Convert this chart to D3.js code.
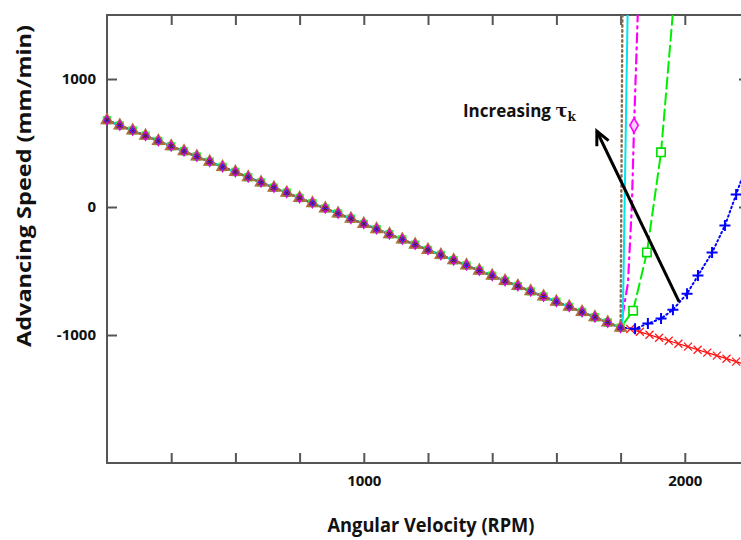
<!DOCTYPE html>
<html><head><meta charset="utf-8">
<script src="https://cdn.jsdelivr.net/npm/d3@7"></script>
<style>
html,body{margin:0;padding:0;background:#fff;}
svg{display:block;}
text{font-family:"Open Sans","DejaVu Sans",sans-serif;}
</style></head>
<body>
<svg id="chart" width="741" height="540"></svg>
<script>
// ---- data ----
const xTicks = [400, 600, 800, 1000, 1200, 1400, 1600, 1800, 2000];
const xTickLabels = [1000, 2000];
const yTicks = [1000, 0, -1000];
const xLabel = "Angular Velocity (RPM)";
const yLabel = "Advancing Speed (mm/min)";

// shared low-speed segment (all curves coincide)
const rpmCommon = [200,240,280,320,360,400,440,480,520,560,600,640,680,720,760,800,840,880,920,960,1000,
  1040,1080,1120,1160,1200,1240,1280,1320,1360,1400,1440,1480,1520,1560,1600,1640,1680,1720,1760,1800];
const speedCommon = [678,637,597,556,516,475,435,394,354,313,273,232,192,151,111,70,30,-11,-51,-92,-132,
  -173,-213,-254,-294,-335,-375,-416,-456,-497,-537,-578,-618,-659,-699,-740,-780,-821,-861,-902,-943];

// branches after the knee
const brownRpm = [1806];            const brownSpeed = [1700];
const cyanRpm = [1807, 1823];       const cyanSpeed = [-870, 1700];
const magentaRpm = [1823, 1835, 1842, 1856]; const magentaSpeed = [-590, 5, 638, 1700];
const magentaMarkRpm = [1842];      const magentaMarkSpeed = [638];
const greenRpm = [1839, 1882, 1926, 1969];   const greenSpeed = [-810, -355, 427, 1700];
const blueRpm = [1845, 1885, 1926, 1963, 2007, 2041, 2085, 2125, 2160, 2200];
const blueSpeed = [-951, -911, -872, -802, -677, -536, -356, -145, 98, 380];
const redRpm = [1830,1860,1890,1920,1950,1980,2010,2040,2070,2100,2130,2160,2190];
const redSpeed = [-953,-975,-998,-1022,-1045,-1068,-1091,-1115,-1138,-1161,-1185,-1208,-1231];

const annotationText = "Increasing τ";
const annotationSub = "k";
const arrowFrom = [1982, -739];
const arrowTo = [1726, 592];
const annotationPos = [1309, 702];

// ---- drawing ----
const svg = d3.select("#chart");
const x = d3.scaleLinear().domain([200, 2200]).range([107, 749]);
const y = d3.scaleLinear().domain([-2000, 1500]).range([463, 15]);

const axisColor = "#555";

svg.append("defs").append("clipPath").attr("id", "clip")
  .append("rect").attr("x", 0).attr("y", y(1500)).attr("width", x(2200)).attr("height", y(-2000) - y(1500));

// frame
svg.append("rect").attr("x", x(200)).attr("y", y(1500))
  .attr("width", x(2200) - x(200)).attr("height", y(-2000) - y(1500))
  .attr("fill", "none").attr("stroke", axisColor).attr("stroke-width", 2);

function styleAxis(g) {
  g.select(".domain").remove();
  g.selectAll(".tick line").attr("stroke", axisColor).attr("stroke-width", 2);
  g.selectAll(".tick text").attr("fill", "#111").attr("font-weight", "bold")
    .attr("font-size", 15).attr("font-family", '"Open Sans", sans-serif');
}
svg.append("g").attr("transform", `translate(0,${y(-2000)})`)
  .call(d3.axisBottom(x).tickValues(xTicks).tickSizeInner(-10).tickSizeOuter(0).tickPadding(12)
    .tickFormat(d => xTickLabels.includes(d) ? String(d) : ""))
  .call(styleAxis);
svg.append("g").attr("transform", `translate(0,${y(1500)})`)
  .call(d3.axisTop(x).tickValues(xTicks).tickSizeInner(-10).tickSizeOuter(0).tickFormat(""))
  .call(styleAxis);
svg.append("g").attr("transform", `translate(${x(200)},0)`)
  .call(d3.axisLeft(y).tickValues(yTicks).tickSizeInner(-10).tickSizeOuter(0).tickPadding(11)
    .tickFormat(d => String(d)))
  .call(styleAxis);
svg.append("g").attr("transform", `translate(${x(2200)},0)`)
  .call(d3.axisRight(y).tickValues(yTicks).tickSizeInner(-10).tickSizeOuter(0).tickFormat(""))
  .call(styleAxis);

// axis titles
svg.append("text").attr("x", 431).attr("y", 532).attr("text-anchor", "middle")
  .attr("font-size", 19).attr("font-weight", "bold").attr("fill", "#111")
  .attr("textLength", 207).attr("lengthAdjust", "spacingAndGlyphs").text(xLabel);
svg.append("text").attr("transform", "translate(31,186) rotate(-90)").attr("text-anchor", "middle")
  .attr("font-size", 20).attr("font-weight", "bold").attr("fill", "#111")
  .attr("textLength", 322).attr("lengthAdjust", "spacingAndGlyphs").text(yLabel);

const zip = (a, b) => a.map((v, i) => [v, b[i]]);
const common = zip(rpmCommon, speedCommon);
const line = d3.line().x(d => x(d[0])).y(d => y(d[1]));
const plot = svg.append("g").attr("clip-path", "url(#clip)");

const series = [
  {color: "#ff0000", pts: common.concat(zip(redRpm, redSpeed)), dash: null, w: 1.2},
  {color: "#0000ff", pts: common.concat(zip(blueRpm, blueSpeed)), dash: "1.5,3", w: 2},
  {color: "#00ee00", pts: common.concat(zip(greenRpm, greenSpeed)), dash: "11,5", w: 2},
  {color: "#ff00ff", pts: common.concat(zip(magentaRpm, magentaSpeed)), dash: "9,5,2,5", w: 2.2},
  {color: "#00e5ee", pts: common.concat(zip(cyanRpm, cyanSpeed)), dash: null, w: 2},
  {color: "#8a6a4a", pts: common.concat(zip(brownRpm, brownSpeed)), dash: "1.5,3.5", w: 2.4},
];
series.forEach(s => {
  plot.append("path").datum(s.pts).attr("d", line).attr("fill", "none")
    .attr("stroke", s.color).attr("stroke-width", s.w)
    .attr("stroke-dasharray", s.dash).attr("stroke-linecap", "round");
});

// marker helpers
const sym = (type, size) => d3.symbol().type(type).size(size)();
const plusPath = r => `M${-r},0H${r}M0,${-r}V${r}`;
const xPath = r => `M${-r},${-r}L${r},${r}M${-r},${r}L${r},${-r}`;
function markers(pts, d, stroke, fill, sw) {
  plot.append("g").selectAll("path").data(pts).join("path")
    .attr("transform", p => `translate(${x(p[0])},${y(p[1])})`)
    .attr("d", d).attr("fill", fill).attr("stroke", stroke).attr("stroke-width", sw);
}
// common markers (overlapping symbols of all series)
markers(common, sym(d3.symbolSquare, 48), "#22ff44", "none", 1.5);
markers(common, sym(d3.symbolTriangle, 52), "#b0703a", "#7a3a55", 1.7);
markers(common, sym(d3.symbolDiamond, 26), "#e000e0", "none", 1.2);
markers(common, plusPath(3), "#2a2aff", "none", 1.1);
markers(common, xPath(2.2), "#6a1020", "none", 1);

// branch markers
markers(zip(redRpm, redSpeed), xPath(4), "#ff1a1a", "none", 1.3);
markers(zip(blueRpm, blueSpeed), plusPath(5.5), "#0000ff", "none", 2);
markers(zip(greenRpm, greenSpeed), sym(d3.symbolSquare, 70), "#00dd00", "#fff", 1.6);
markers(zip(magentaMarkRpm, magentaMarkSpeed), sym(d3.symbolDiamond, 60), "#ff00ff", "#ffd0ff", 1.6);

// arrow annotation
const ax0 = x(arrowFrom[0]), ay0 = y(arrowFrom[1]);
const ax1 = x(arrowTo[0]), ay1 = y(arrowTo[1]);
svg.append("line").attr("x1", ax0).attr("y1", ay0).attr("x2", ax1).attr("y2", ay1)
  .attr("stroke", "#000").attr("stroke-width", 3);
const ang = Math.atan2(ay0 - ay1, ax0 - ax1);
const headLen = 15, spread = 0.45;
const hp = [ang - spread, ang + spread].map(a => [ax1 + headLen * Math.cos(a), ay1 + headLen * Math.sin(a)]);
svg.append("path").attr("d", `M${hp[0][0]},${hp[0][1]}L${ax1},${ay1}L${hp[1][0]},${hp[1][1]}`)
  .attr("fill", "none").attr("stroke", "#000").attr("stroke-width", 3).attr("stroke-linejoin", "miter");

const ann = svg.append("text").attr("x", x(annotationPos[0])).attr("y", y(annotationPos[1]))
  .attr("font-size", 17).attr("font-weight", "bold").attr("fill", "#111");
ann.append("tspan").text(annotationText.slice(0, -1)).attr("font-family", '"Open Sans", sans-serif');
ann.append("tspan").text(annotationText.slice(-1)).attr("font-family", '"DejaVu Serif", serif').attr("font-size", 18);
ann.append("tspan").text(annotationSub).attr("font-family", '"DejaVu Serif", serif')
  .attr("font-size", 12).attr("dy", 4);
</script>
</body></html>
